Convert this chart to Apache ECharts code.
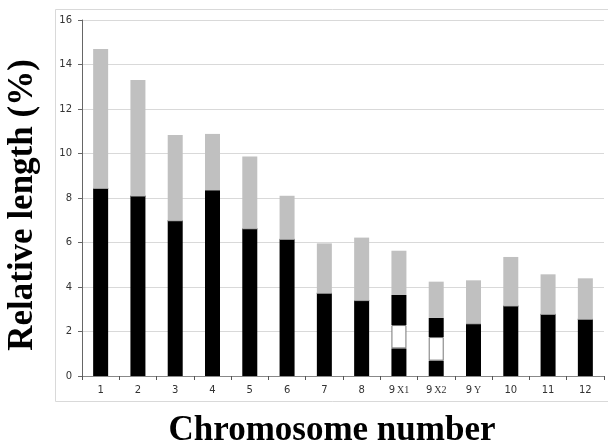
<!DOCTYPE html>
<html>
<head>
<meta charset="utf-8">
<script src="https://cdn.jsdelivr.net/npm/echarts@6/dist/echarts.min.js"></script>
<style>html,body{margin:0;padding:0;background:#fff;}#c{width:608px;height:446px;}</style>
</head>
<body>
<div id="c"></div>
<script>
// Data
var categories = ['1','2','3','4','5','6','7','8','9X1','9X2','9Y','10','11','12'];
// top of the black (long arm) part
var blackTop = [8.43, 8.09, 6.98, 8.36, 6.62, 6.14, 3.72, 3.39, 3.64, 2.61, 2.35, 3.15, 2.77, 2.55];
// top of the grey part (total relative length)
var grayTop = [14.70, 13.30, 10.83, 10.88, 9.87, 8.10, 5.96, 6.22, 5.63, 4.24, 4.30, 5.35, 4.57, 4.39];
// white band inside the black part (null when absent)
var bandLow = [null, null, null, null, null, null, null, null, 1.24, 0.69, null, null, null, null];
var bandHigh = [null, null, null, null, null, null, null, null, 2.29, 1.75, null, null, null, null];
var yTicks = [0, 2, 4, 6, 8, 10, 12, 14, 16];

var seg1 = [], seg2 = [], seg3 = [], seg4 = [];
for (var i = 0; i < categories.length; i++) {
  if (bandLow[i] !== null) {
    seg1.push(+bandLow[i].toFixed(3));
    seg2.push(+(bandHigh[i] - bandLow[i]).toFixed(3));
    seg3.push(+(blackTop[i] - bandHigh[i]).toFixed(3));
  } else {
    seg1.push(blackTop[i]);
    seg2.push(0);
    seg3.push(0);
  }
  seg4.push(+(grayTop[i] - blackTop[i]).toFixed(3));
}

var chart = echarts.init(document.getElementById('c'), null, {renderer: 'canvas'});
var bw = 15;
var titleFont = 'bold 35px "Liberation Serif", "Times New Roman", serif';
chart.setOption({
  animation: false,
  backgroundColor: '#fff',
  graphic: [
    {type: 'rect', shape: {x: 55.5, y: 9.5, width: 600, height: 392}, style: {fill: 'none', stroke: '#d9d9d9', lineWidth: 1}, z: -10},
    {type: 'text', x: 332, y: 431,
      style: {text: 'Chromosome number', font: titleFont, fill: '#000', align: 'center', verticalAlign: 'middle'}},
    {type: 'text', x: 23, y: 205, rotation: Math.PI / 2,
      style: {text: 'Relative length (%)', font: titleFont, fill: '#000', align: 'center', verticalAlign: 'middle'}}
  ],
  grid: {left: 82, right: 4, top: 20, bottom: 70, containLabel: false},
  xAxis: {
    type: 'category',
    data: categories,
    axisLine: {lineStyle: {color: '#888', width: 1}},
    axisTick: {show: true, alignWithLabel: false, length: 4, lineStyle: {color: '#555'}},
    axisLabel: {
      interval: 0,
      margin: 9,
      fontSize: 10,
      color: '#333',
      fontFamily: '"DejaVu Sans", sans-serif',
      formatter: function (v) {
        if (v.indexOf('9') === 0 && v.length > 1) {
          return '{a|9}{b|' + v.slice(1) + '}';
        }
        return v;
      },
      rich: {
        a: {fontSize: 10, color: '#333', fontFamily: '"DejaVu Sans", sans-serif', padding: [0, 2, 0, 0]},
        b: {fontSize: 10, color: '#333', fontFamily: '"Liberation Serif", serif'}
      }
    }
  },
  yAxis: {
    type: 'value',
    min: 0, max: 16, interval: 2,
    axisLine: {show: true, lineStyle: {color: '#666', width: 1}},
    axisTick: {show: true, length: 4, lineStyle: {color: '#666'}},
    splitLine: {lineStyle: {color: '#d9d9d9', width: 1}},
    axisLabel: {
      fontSize: 10, color: '#333', margin: 10,
      fontFamily: '"DejaVu Sans", sans-serif',
      formatter: function (v) { return yTicks.indexOf(v) >= 0 ? String(v) : ''; }
    }
  },
  series: [
    {type: 'bar', stack: 's', barWidth: bw, data: seg1, itemStyle: {color: '#000'}},
    {type: 'bar', stack: 's', barWidth: bw, data: seg2, itemStyle: {color: '#fff', borderColor: '#777', borderWidth: 1}},
    {type: 'bar', stack: 's', barWidth: bw, data: seg3, itemStyle: {color: '#000'}},
    {type: 'bar', stack: 's', barWidth: bw, data: seg4, itemStyle: {color: '#c0c0c0'}}
  ]
});
</script>
</body>
</html>
